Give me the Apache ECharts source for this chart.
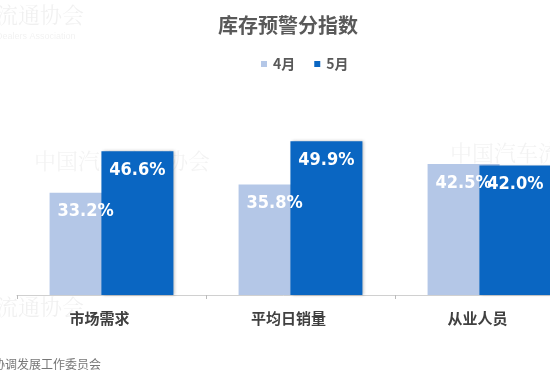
<!DOCTYPE html>
<html>
<head>
<meta charset="utf-8">
<script src="https://cdn.jsdelivr.net/npm/echarts@6/dist/echarts.min.js"></script>
<style>
  html, body { margin: 0; padding: 0; background: #fff; }
  #chart { width: 550px; height: 378px; }
</style>
</head>
<body>
<div id="chart"></div>
<script>
// 数据
const categories = ['市场需求', '平均日销量', '从业人员'];
const seriesNames = ['4月', '5月'];
const aprilValues = [33.2, 35.8, 42.5];
const mayValues = [46.6, 49.9, 42.0];

const cjk = '"Noto Sans CJK SC", "Noto Sans", sans-serif';
const numFont = '"DejaVu Sans Condensed", "Liberation Sans Narrow", "Liberation Sans", sans-serif';

const barLabel = {
  show: true,
  position: 'insideTop',
  distance: 10,
  color: '#fff',
  fontSize: 18,
  fontWeight: 'bold',
  fontFamily: numFont,
  formatter: p => p.value.toFixed(1) + '%'
};

const myChart = echarts.init(document.getElementById('chart'));
const option = {
  backgroundColor: '#fff',
  animation: false,
  title: {
    text: '库存预警分指数',
    left: 213,
    top: 10,
    textStyle: { fontFamily: cjk, fontSize: 20, fontWeight: 'bold', color: '#595959' }
  },
  legend: {
    data: seriesNames,
    top: 52,
    left: 256,
    itemWidth: 6,
    itemHeight: 6,
    itemGap: 19,
    icon: 'rect',
    textStyle: { fontFamily: cjk, fontSize: 14, fontWeight: 'bold', color: '#595959', padding: [0, 0, 0, 1] }
  },
  grid: {
    left: 17,
    width: 567,
    top: 110,
    bottom: 83,
    outerBoundsMode: 'none',
    containLabel: false
  },
  xAxis: {
    type: 'category',
    data: categories,
    axisLine: { lineStyle: { color: '#d0d0d0', width: 1 } },
    axisTick: { show: true, length: 4, lineStyle: { color: '#bbb' } },
    axisLabel: {
      margin: 16,
      fontFamily: cjk,
      fontSize: 15,
      fontWeight: 'bold',
      color: '#404040',
      padding: [0, 24, 0, 0]
    }
  },
  yAxis: {
    type: 'value',
    min: 0,
    max: 60,
    show: false,
    splitLine: { show: false }
  },
  series: [
    {
      name: seriesNames[0],
      type: 'bar',
      data: aprilValues,
      barWidth: 72,
      barGap: '-28%',
      itemStyle: { color: '#B4C7E7' },
      label: barLabel
    },
    {
      name: seriesNames[1],
      type: 'bar',
      data: mayValues,
      barWidth: 72,
      itemStyle: {
        color: '#0A66C2',
        shadowColor: 'rgba(0,0,0,0.25)',
        shadowBlur: 3,
        shadowOffsetX: 2
      },
      label: barLabel
    }
  ],
  graphic: [
    // 水印
    { type: 'text', left: -4, top: 4, silent: true,
      style: { text: '流通协会', font: '22px "Noto Serif CJK SC", serif', fill: 'rgba(0,0,0,0.06)' } },
    { type: 'text', left: -4, top: 32, silent: true,
      style: { text: 'Dealers Association', font: '9px "Liberation Sans", sans-serif', fill: 'rgba(0,0,0,0.06)' } },
    { type: 'text', left: 34, top: 150, silent: true,
      style: { text: '中国汽车流通协会', font: '22px "Noto Serif CJK SC", serif', fill: 'rgba(0,0,0,0.05)' } },
    { type: 'text', left: 450, top: 142, silent: true,
      style: { text: '中国汽车流通协会', font: '22px "Noto Serif CJK SC", serif', fill: 'rgba(0,0,0,0.05)' } },
    { type: 'text', left: -4, top: 296, silent: true,
      style: { text: '流通协会', font: '22px "Noto Serif CJK SC", serif', fill: 'rgba(0,0,0,0.06)' } },
    // 来源
    { type: 'text', left: -7, top: 358, silent: true,
      style: { text: '协调发展工作委员会', font: '12px "Noto Sans CJK SC", sans-serif', fill: '#777' } }
  ]
};
myChart.setOption(option);
</script>
</body>
</html>
